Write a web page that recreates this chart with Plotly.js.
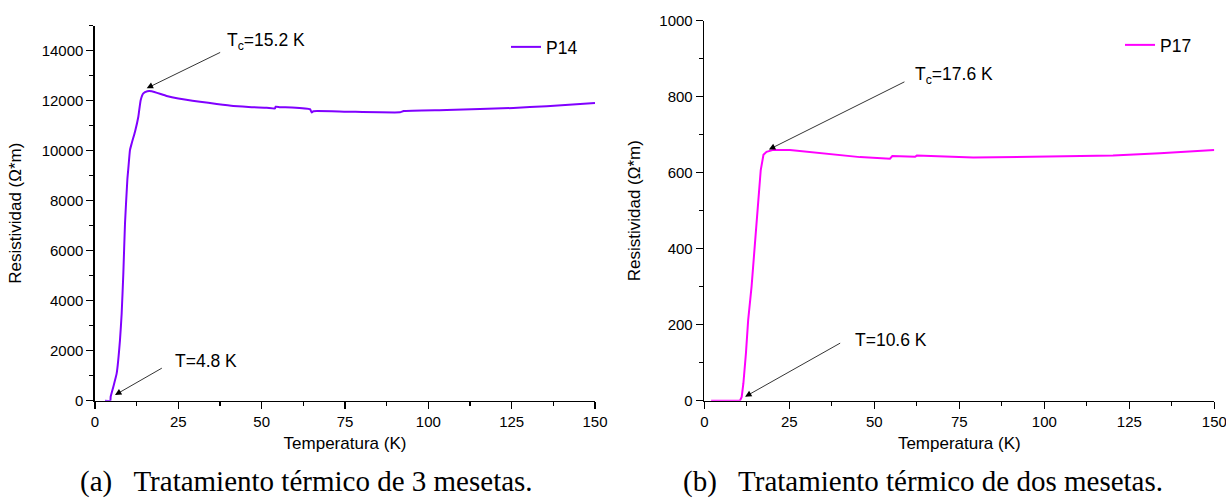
<!DOCTYPE html>
<html>
<head>
<meta charset="utf-8">
<script src="https://cdn.plot.ly/plotly-3.0.1.min.js"></script>
<style>html,body{margin:0;padding:0;background:#fff;}#chart{width:1226px;height:498px;}</style>
</head>
<body>
<div id="chart"></div>
<script>
// Panel (a): P14
const tempP14 = [3.0, 4.6, 4.7, 5.5, 6.5, 7.5, 8.0, 8.5, 9.0, 9.7, 10.0, 10.5, 11.0, 12.0, 13.0, 13.7, 14.5, 15.7, 17.0, 21.5, 25.0, 31.5, 36.5, 41.5, 47.0, 51.5, 54.0, 54.2, 55.5, 59.0, 64.5, 65.0, 65.5, 75.5, 91.5, 92.6, 105.5, 125.5, 135.5, 150];
const resP14 = [0, 0, 160, 560, 1090, 2430, 3490, 5090, 7090, 8830, 9290, 10030, 10290, 10760, 11360, 12020, 12290, 12380, 12380, 12190, 12090, 11960, 11870, 11790, 11740, 11720, 11690, 11760, 11740, 11730, 11660, 11530, 11580, 11560, 11535, 11585, 11625, 11710, 11780, 11910];
// Panel (b): P17
const tempP17 = [2, 10.5, 11, 11.5, 12.25, 12.9, 13.9, 14.9, 15.9, 16.6, 17.4, 18.3, 20.3, 25.2, 35, 45.8, 54.6, 55.3, 62, 62.5, 79.1, 108.5, 118.5, 120.2, 134, 150];
const resP17 = [0, 0, 10, 46, 125, 212, 300, 405, 528, 607, 647, 655, 660, 660, 651, 641, 637, 644, 642, 645, 640, 643, 643, 645, 651, 660];

const seriesNames = ['P14', 'P17'];
const xTitle = 'Temperatura (K)';
const yTitle = 'Resistividad (\u03A9*m)';
const captions = ['(a)\u2002 Tratamiento t\u00e9rmico de 3 mesetas.', '(b)\u2002 Tratamiento t\u00e9rmico de dos mesetas.'];

const W = 1226, H = 498;
const px = v => v / W;
const py = v => (H - v) / H;

const sans = 'Liberation Sans, Arial, sans-serif';
const tickFont = {family: sans, size: 15, color: '#000'};
const titleFont = {family: sans, size: 17, color: '#000'};

function xaxisCfg(domain, anchor) {
  return {
    domain: domain, anchor: anchor, range: [0, 150],
    tickmode: 'linear', tick0: 0, dtick: 25, ticklabeloverflow: 'allow',
    ticks: 'outside', ticklen: 7, tickwidth: 1.3, tickcolor: '#000',
    minor: {dtick: 12.5, ticks: 'outside', ticklen: 4, tickwidth: 1.3, tickcolor: '#000', showgrid: false},
    showline: true, linecolor: '#000', linewidth: 1.6,
    showgrid: false, zeroline: false, tickfont: tickFont,
    title: {text: xTitle, font: titleFont, standoff: 8}
  };
}
function yaxisCfg(domain, anchor, range, dtick, minor, standoff) {
  return {
    domain: domain, anchor: anchor, range: range, tickformat: 'd',
    tickmode: 'linear', tick0: 0, dtick: dtick, ticklabeloverflow: 'allow',
    ticks: 'outside', ticklen: 7, tickwidth: 1.3, tickcolor: '#000',
    minor: {dtick: minor, ticks: 'outside', ticklen: 4, tickwidth: 1.3, tickcolor: '#000', showgrid: false},
    showline: true, linecolor: '#000', linewidth: 1.6,
    showgrid: false, zeroline: false, tickfont: tickFont,
    title: {text: yTitle, font: titleFont, standoff: standoff}
  };
}

const traces = [
  {x: tempP14, y: resP14, xaxis: 'x', yaxis: 'y', mode: 'lines', name: seriesNames[0],
   line: {color: '#8000ff', width: 2, shape: 'spline', smoothing: 0.4}, legend: 'legend'},
  {x: tempP17, y: resP17, xaxis: 'x2', yaxis: 'y2', mode: 'lines', name: seriesNames[1],
   line: {color: '#ff00ff', width: 2}, legend: 'legend2'}
];

const arrowStyle = {showarrow: true, arrowhead: 2, arrowsize: 1.6, arrowwidth: 0.8, arrowcolor: '#000', text: ''};
const annFont = {family: sans, size: 17.5, color: '#000'};

const annotations = [
  Object.assign({xref: 'x', yref: 'y', x: 15.5, y: 12496, axref: 'x', ayref: 'y', ax: 38.0, ay: 13960}, arrowStyle),
  {xref: 'x', yref: 'y', x: 39.0, y: 14360, text: 'T<sub>c</sub>=15.2 K', showarrow: false, xanchor: 'left', yanchor: 'middle', font: annFont},
  Object.assign({xref: 'x', yref: 'y', x: 6.0, y: 228, axref: 'x', ayref: 'y', ax: 20.5, ay: 1336}, arrowStyle),
  {xref: 'x', yref: 'y', x: 23.4, y: 1600, text: 'T=4.8 K', showarrow: false, xanchor: 'left', yanchor: 'middle', font: annFont},
  Object.assign({xref: 'x2', yref: 'y2', x: 19.0, y: 661, axref: 'x2', ayref: 'y2', ax: 59.3, ay: 841}, arrowStyle),
  {xref: 'x2', yref: 'y2', x: 61.4, y: 855, text: 'T<sub>c</sub>=17.6 K', showarrow: false, xanchor: 'left', yanchor: 'middle', font: annFont},
  Object.assign({xref: 'x2', yref: 'y2', x: 12.0, y: 10.5, axref: 'x2', ayref: 'y2', ax: 40.4, ay: 153.7}, arrowStyle),
  {xref: 'x2', yref: 'y2', x: 43.7, y: 160, text: 'T=10.6 K', showarrow: false, xanchor: 'left', yanchor: 'middle', font: annFont},
  {xref: 'paper', yref: 'paper', x: px(78), y: py(481), text: captions[0], showarrow: false, xanchor: 'left', yanchor: 'middle',
   font: {family: 'Liberation Serif, Times New Roman, serif', size: 29, color: '#000'}},
  {xref: 'paper', yref: 'paper', x: px(681), y: py(481), text: captions[1], showarrow: false, xanchor: 'left', yanchor: 'middle',
   font: {family: 'Liberation Serif, Times New Roman, serif', size: 29, color: '#000'}}
];

const layout = {
  width: W, height: H,
  margin: {l: 0, r: 0, t: 0, b: 0},
  paper_bgcolor: '#fff', plot_bgcolor: '#fff',
  showlegend: true,
  xaxis: xaxisCfg([px(95), px(595)], 'y'),
  yaxis: yaxisCfg([py(400.7), py(25.7)], 'x', [0, 15000], 2000, 1000, 16),
  xaxis2: xaxisCfg([px(704.3), px(1214.3)], 'y2'),
  yaxis2: yaxisCfg([py(400.7), py(20.7)], 'x2', [0, 1000], 200, 100, 14),
  legend: {x: px(506), y: py(47), xanchor: 'left', yanchor: 'middle', bgcolor: 'rgba(0,0,0,0)',
           font: {family: sans, size: 17.5, color: '#000'}},
  legend2: {x: px(1120), y: py(45), xanchor: 'left', yanchor: 'middle', bgcolor: 'rgba(0,0,0,0)',
           font: {family: sans, size: 17.5, color: '#000'}},
  annotations: annotations
};

Plotly.newPlot('chart', traces, layout, {displayModeBar: false, staticPlot: true});
</script>
</body>
</html>
